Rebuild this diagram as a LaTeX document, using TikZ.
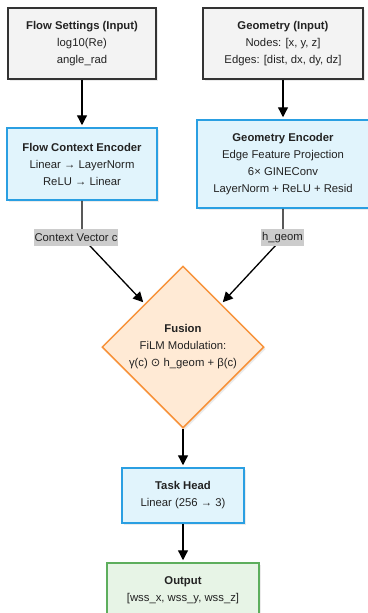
\documentclass[tikz,border=0pt]{standalone}
\usepackage{fontspec}
\setmainfont{Liberation Sans}
\newfontfamily\symfont{DejaVu Sans}
\usetikzlibrary{arrows.meta,shapes.geometric,calc,shadows}
\definecolor{txt}{HTML}{222222}
\definecolor{grayfill}{HTML}{F3F3F3}
\definecolor{grayline}{HTML}{333333}
\definecolor{bluefill}{HTML}{E1F4FC}
\definecolor{blueline}{HTML}{2A9FE2}
\definecolor{orangefill}{HTML}{FFEAD5}
\definecolor{orangeline}{HTML}{F7923A}
\definecolor{greenfill}{HTML}{E7F4E6}
\definecolor{greenline}{HTML}{5DAE5D}
\definecolor{lblfill}{HTML}{CCCCCC}
\tikzset{
  base/.style={align=center, text=txt, font=\fontsize{11.3}{17}\selectfont, inner sep=0pt,
    drop shadow={shadow xshift=2pt, shadow yshift=-2pt, opacity=0.08, fill=black}},
  inbox/.style={base, draw=grayline, fill=grayfill, line width=1.5pt},
  encbox/.style={base, draw=blueline, fill=bluefill, line width=1.5pt},
  outbox/.style={base, draw=greenline, fill=greenfill, line width=1.5pt},
  fusebox/.style={base, shape=diamond, aspect=1, draw=orangeline, fill=orangefill, line width=1.5pt},
  lbl/.style={fill=lblfill, text=txt, font=\fontsize{11.3}{13}\selectfont, inner xsep=1pt, inner ysep=0pt, minimum height=17pt},
  conn/.style={draw=black, line width=1.3pt, -{Triangle[width=10pt,length=10pt]}, shorten >=2pt},
}
\begin{document}
\begin{tikzpicture}[x=1pt,y=-1pt]
\useasboundingbox (0,0) rectangle (367,613);
\node[inbox, minimum width=148pt, minimum height=71pt] (fs) at (82,43.5)
  {\textbf{Flow Settings (Input)}\\log10(Re)\\angle\_rad};
\node[inbox, minimum width=160pt, minimum height=71pt] (geo) at (283,43.5)
  {\textbf{Geometry (Input)}\\Nodes: [x, y, z]\\Edges: [dist, dx, dy, dz]};
\node[encbox, minimum width=150pt, minimum height=72pt] (fce) at (82,164)
  {\textbf{Flow Context Encoder}\\Linear → LayerNorm\\ReLU → Linear};
\node[encbox, minimum width=172pt, minimum height=88pt] (ge) at (283,164)
  {\textbf{Geometry Encoder}\\Edge Feature Projection\\6× GINEConv\\LayerNorm + ReLU + Resid};
\node[fusebox, minimum width=162pt, minimum height=162pt] (fusion) at (183,347)
  {\textbf{Fusion}\\FiLM Modulation:\\γ(c) {\symfont ⊙} h\_geom + β(c)};
\node[encbox, minimum width=122pt, minimum height=55pt] (th) at (183,495.5)
  {\textbf{Task Head}\\Linear (256 → 3)};
\node[outbox, minimum width=152pt, minimum height=55pt] (out) at (183,590.5)
  {\textbf{Output}\\{[}wss\_x, wss\_y, wss\_z{]}};
\coordinate (cvc) at (82,237.5);
\coordinate (hgc) at (283,237.5);
\coordinate (fl) at ($(fusion.north)!0.47!(fusion.west)$);
\coordinate (fr) at ($(fusion.north)!0.47!(fusion.east)$);
\draw[conn] (fs.south) -- (fce.north);
\draw[conn] (geo.south) -- (ge.north);
\draw[conn] (fce.south) -- (cvc) -- (fl);
\draw[conn] (ge.south) -- (hgc) -- (fr);
\draw[conn] (fusion.south) -- (th.north);
\draw[conn] (th.south) -- (out.north);
\node[lbl] (cv) at (76,237.5) {Context Vector c};
\node[lbl] (hg) at (282.5,237.5) {h\_geom};
\end{tikzpicture}
\end{document}
